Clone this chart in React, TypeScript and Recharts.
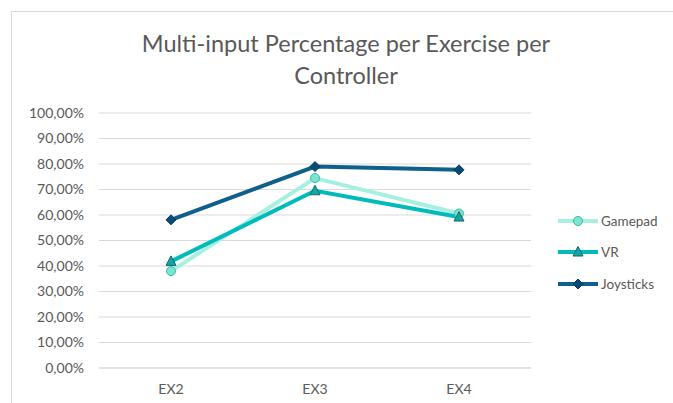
import React from 'react';
import { LineChart, Line, XAxis, YAxis, CartesianGrid, Legend } from 'recharts';

const categories = ['EX2', 'EX3', 'EX4'];
const gamepad = [38.0, 74.5, 60.6];
const vr = [41.8, 69.5, 59.2];
const joysticks = [58.1, 79.0, 77.7];
const yTicks = [0, 10, 20, 30, 40, 50, 60, 70, 80, 90, 100];
const seriesNames = ['Gamepad', 'VR', 'Joysticks'];

const data = categories.map((c, i) => ({
  name: c,
  Gamepad: gamepad[i],
  VR: vr[i],
  Joysticks: joysticks[i],
}));

const FONT = 'Lato, "Liberation Sans", sans-serif';
const TEXT = '#595959';

const styles: Record<string, { line: string; fill: string; stroke: string; shape: string }> = {
  Gamepad: { line: '#A6F0E2', fill: '#80E3CF', stroke: '#33BFA8', shape: 'circle' },
  VR: { line: '#00BBBB', fill: '#18A3A3', stroke: '#0B6C6C', shape: 'triangle' },
  Joysticks: { line: '#0E5F8C', fill: '#0B4A75', stroke: '#083A5E', shape: 'diamond' },
};

function Marker({ cx, cy, name }: { cx: number; cy: number; name: string }) {
  const s = styles[name];
  if (cx == null || cy == null) return null;
  if (s.shape === 'circle') {
    return <circle cx={cx} cy={cy} r={4.5} fill={s.fill} stroke={s.stroke} strokeWidth={1} />;
  }
  if (s.shape === 'triangle') {
    const p = `${cx},${cy - 5.5} ${cx + 5},${cy + 4} ${cx - 5},${cy + 4}`;
    return <polygon points={p} fill={s.fill} stroke={s.stroke} strokeWidth={1} />;
  }
  const d = `${cx},${cy - 5} ${cx + 5},${cy} ${cx},${cy + 5} ${cx - 5},${cy}`;
  return <polygon points={d} fill={s.fill} stroke={s.stroke} strokeWidth={1} />;
}

const makeDot = (name: string) => (props: any) => (
  <Marker key={`${name}-${props.index}`} cx={props.cx} cy={props.cy} name={name} />
);

const fmt = (v: number) => v.toFixed(2).replace('.', ',') + '%';

function LegendContent() {
  return (
    <div style={{ fontFamily: FONT, fontSize: 13.5, color: TEXT }}>
      {seriesNames.map((n) => (
        <div key={n} style={{ display: 'flex', alignItems: 'center', height: 31.5 }}>
          <svg width={42} height={14} style={{ marginRight: 2 }}>
            <line x1={1} y1={7} x2={41} y2={7} stroke={styles[n].line} strokeWidth={4} />
            <Marker cx={21} cy={7} name={n} />
          </svg>
          <span>{n}</span>
        </div>
      ))}
    </div>
  );
}

export default function App() {
  return (
    <div style={{ position: 'absolute', left: 0, top: 0, width: 673, height: 403, background: '#fff', overflow: 'hidden' }}>
      <div style={{ position: 'absolute', left: 11, top: 11, width: 700, height: 420, border: '1px solid #D9D9D9' }} />
      <div
        style={{
          position: 'absolute',
          left: 46,
          width: 600,
          top: 27,
          textAlign: 'center',
          whiteSpace: 'nowrap',
          fontFamily: FONT,
          fontSize: 23.5,
          lineHeight: '32px',
          color: TEXT,
        }}
      >
        Multi-input Percentage per Exercise per
        <br />
        Controller
      </div>
      <div style={{ position: 'absolute', left: 0, top: 0 }}>
        <LineChart width={673} height={403} data={data} margin={{ top: 113, right: 32, bottom: 0, left: 0 }}>
          <CartesianGrid vertical={false} stroke="#D9D9D9" strokeWidth={1} />
          <XAxis
            dataKey="name"
            height={35}
            padding={{ left: 72, right: 72 }}
            axisLine={{ stroke: '#D9D9D9' }}
            tickLine={false}
            tickSize={0}
            tickMargin={16}
            tick={{ fill: TEXT, fontSize: 14, fontFamily: FONT }}
          />
          <YAxis
            width={99}
            domain={[0, 100]}
            ticks={yTicks}
            interval={0}
            axisLine={false}
            tickLine={false}
            tickSize={0}
            tickMargin={15}
            tickFormatter={fmt}
            tick={{ fill: TEXT, fontSize: 14, fontFamily: FONT }}
          />
          <Legend
            layout="vertical"
            align="right"
            verticalAlign="top"
            content={<LegendContent />}
            wrapperStyle={{ left: 557, top: 205, width: 110 }}
          />
          {seriesNames.map((n) => (
            <Line
              key={n}
              type="linear"
              dataKey={n}
              stroke={styles[n].line}
              strokeWidth={4}
              dot={makeDot(n)}
              activeDot={false}
              isAnimationActive={false}
            />
          ))}
        </LineChart>
      </div>
    </div>
  );
}
